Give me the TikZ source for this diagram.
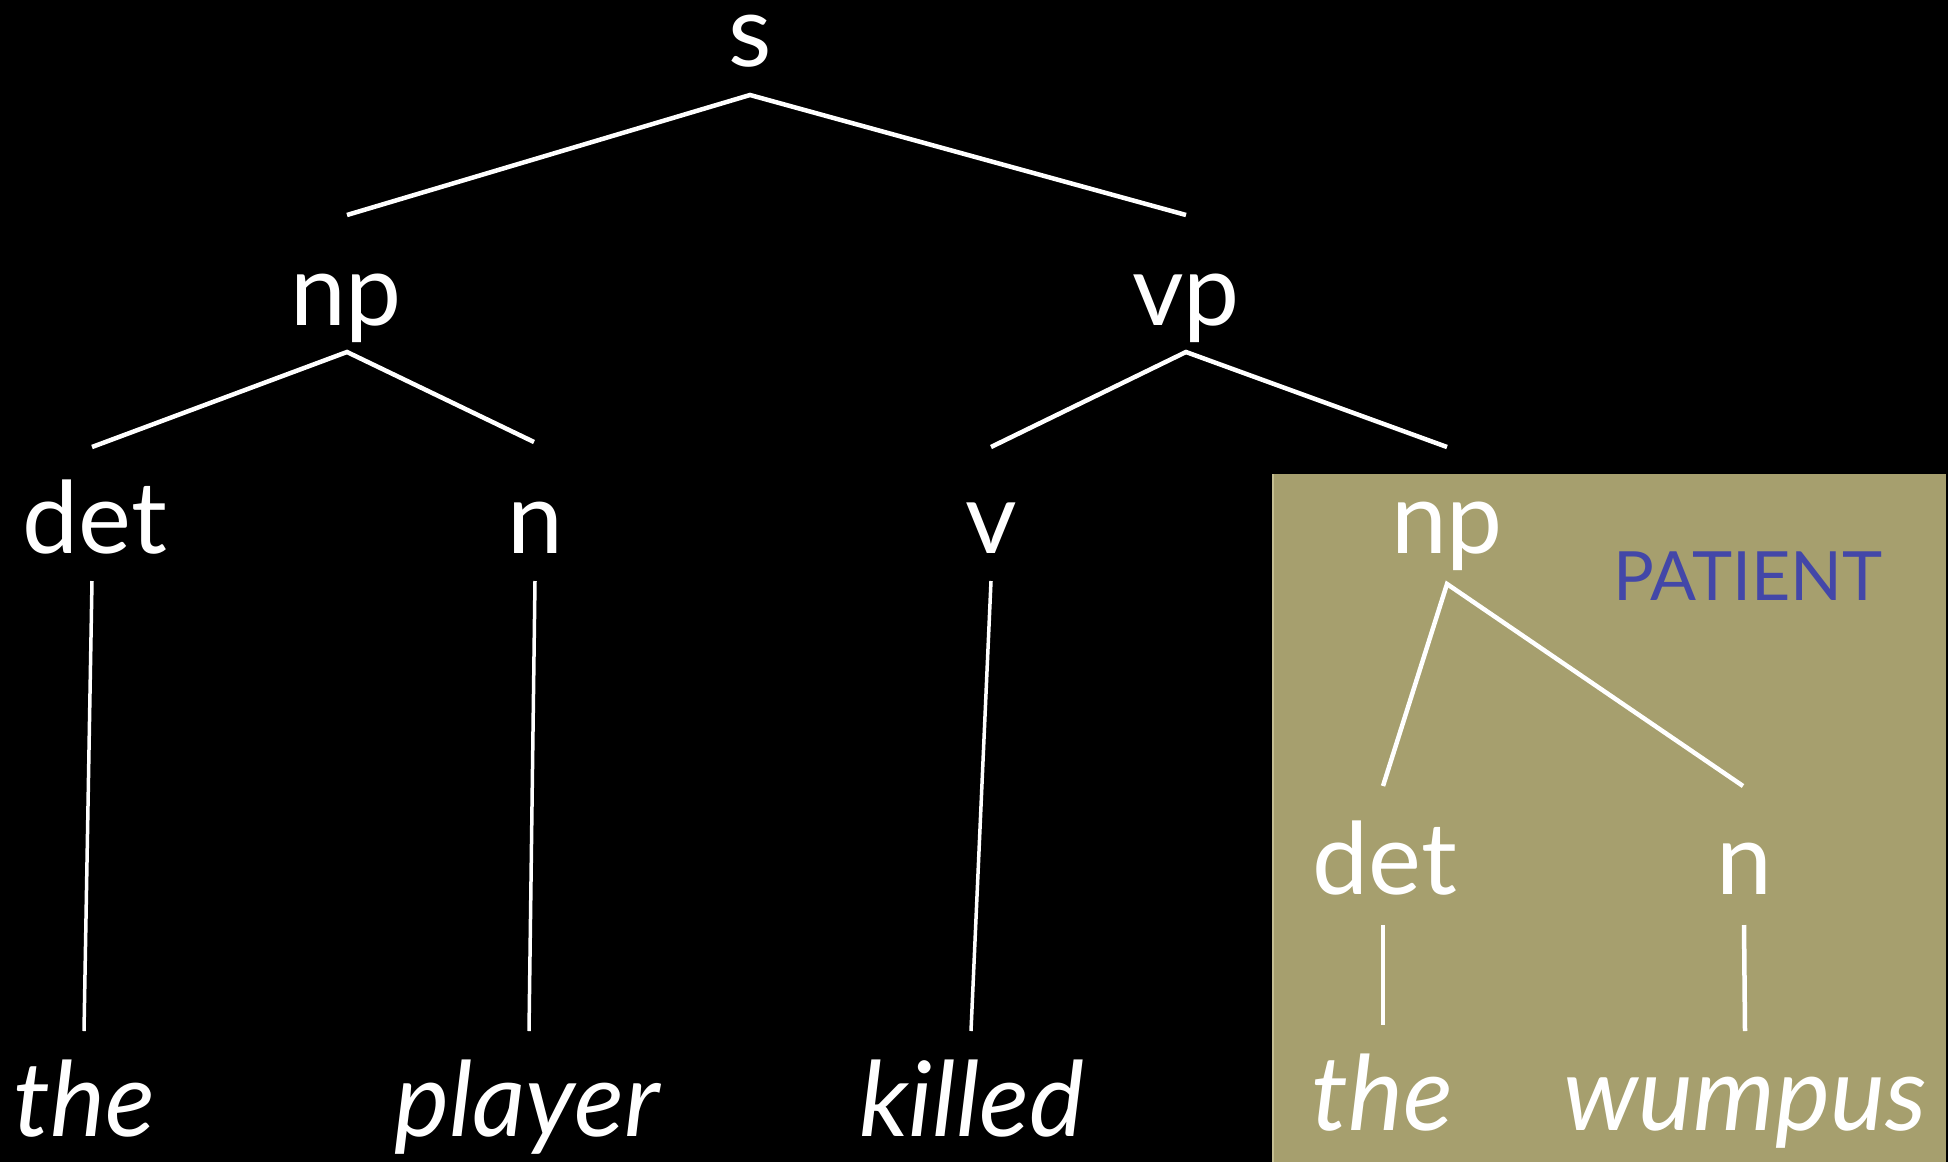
\documentclass[tikz,border=0pt]{standalone}
\usepackage{fontspec}
\setmainfont{Lato}
\definecolor{boxcol}{HTML}{A69F6E}
\definecolor{boxedge}{HTML}{C4BE92}
\definecolor{patcol}{HTML}{4347A8}
\begin{document}
\begin{tikzpicture}[x=1pt,y=-1pt,
  lab/.style={text=white,anchor=base,inner sep=0pt,font=\fontsize{100}{100}\selectfont},
  word/.style={text=white,anchor=base,inner sep=0pt,font=\fontsize{104}{104}\selectfont\itshape},
  role/.style={text=patcol,anchor=base,inner sep=0pt,font=\fontsize{68}{68}\selectfont},
  branch/.style={draw=white,line width=4.5pt},
  stem/.style={draw=white,line width=3.5pt}]
\fill[black] (0,0) rectangle (1948,1162);
\useasboundingbox (0,0) rectangle (1948,1162);
\fill[boxcol] (1272,474) rectangle (1946,1162);
\draw[boxedge,line width=2pt] (1273,474) -- (1273,1162);
% labels
\node[lab] (s) at (750,66) {s};
\node[lab] (np) at (346,325) {np};
\node[lab] (vp) at (1186,325) {vp};
\node[lab] (det) at (95,553) {det};
\node[lab] (n) at (535,553) {n};
\node[lab] (v) at (991,553) {v};
\node[lab] (np2) at (1447,553) {np};
\node[lab] (det2) at (1385,894) {det};
\node[lab] (n2) at (1744,894) {n};
\node[role] (pat) at (1748,600) {PATIENT};
\node[word] (w1) at (84,1136) {the};
\node[word] (w2) at (527,1136) {player};
\node[word] (w3) at (972,1136) {killed};
\node[word] (w4) at (1382,1130) {the};
\node[word] (w5) at (1745,1130) {wumpus};
% connector end points
\coordinate (s-f) at (750,95);
\coordinate (np-h) at (347,215);
\coordinate (vp-h) at (1186,215);
\coordinate (np-f) at (347,352);
\coordinate (det-h) at (92,447);
\coordinate (n-h) at (534,442);
\coordinate (vp-f) at (1186,352);
\coordinate (v-h) at (991,447);
\coordinate (np2-h) at (1447,447);
\coordinate (det-f) at (92,581);
\coordinate (w1-h) at (84,1031);
\coordinate (n-f) at (535,581);
\coordinate (w2-h) at (529,1031);
\coordinate (v-f) at (991,581);
\coordinate (w3-h) at (971,1031);
\coordinate (np2-f) at (1447,584);
\coordinate (det2-h) at (1383,786);
\coordinate (n2-h) at (1743,786);
\coordinate (det2-f) at (1383,925);
\coordinate (w4-h) at (1383,1025);
\coordinate (n2-f) at (1744,925);
\coordinate (w5-h) at (1745,1031);
% connectors
\draw[branch] (np-h) -- (s-f) -- (vp-h);
\draw[branch] (det-h) -- (np-f) -- (n-h);
\draw[branch] (v-h) -- (vp-f) -- (np2-h);
\draw[branch] (det2-h) -- (np2-f) -- (n2-h);
\draw[stem] (det-f) -- (w1-h);
\draw[stem] (n-f) -- (w2-h);
\draw[stem] (v-f) -- (w3-h);
\draw[branch] (det2-f) -- (w4-h);
\draw[branch] (n2-f) -- (w5-h);
\end{tikzpicture}
\end{document}
